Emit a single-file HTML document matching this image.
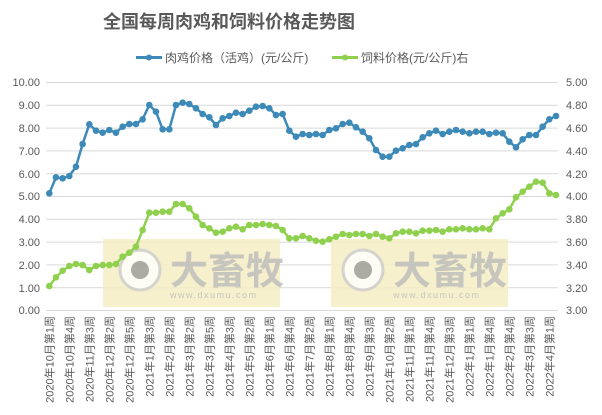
<!DOCTYPE html>
<html><head><meta charset="utf-8"><style>
body{margin:0;background:#fff}
svg{display:block;font-family:"Liberation Sans","Noto Sans CJK SC",sans-serif}
</style></head><body>
<svg id="s" width="602" height="415" viewBox="0 0 602 415">
<rect width="602" height="415" fill="#fff"/>
<g stroke="#d9d9d9" stroke-width="1">
<line x1="46" x2="558" y1="82.5" y2="82.5"/><line x1="46" x2="558" y1="105.3" y2="105.3"/><line x1="46" x2="558" y1="128.1" y2="128.1"/><line x1="46" x2="558" y1="150.9" y2="150.9"/><line x1="46" x2="558" y1="173.7" y2="173.7"/><line x1="46" x2="558" y1="196.5" y2="196.5"/><line x1="46" x2="558" y1="219.3" y2="219.3"/><line x1="46" x2="558" y1="242.1" y2="242.1"/><line x1="46" x2="558" y1="264.9" y2="264.9"/><line x1="46" x2="558" y1="287.7" y2="287.7"/><line x1="46" x2="558" y1="310.5" y2="310.5"/>
</g>
<rect x="103" y="239" width="177" height="68" fill="#f4edc4" opacity="0.85"/>
<rect x="331" y="239" width="177" height="68" fill="#f4edc4" opacity="0.85"/>
<g opacity="0.8">
<circle cx="140" cy="270" r="20" fill="#fff" stroke="#ccc" stroke-width="3"/><circle cx="140" cy="270" r="9" fill="#999"/>
<text x="170" y="284" font-size="38" font-weight="bold" fill="#bbb">大畜牧</text>
<text x="170" y="298" font-size="9" fill="#bbb" letter-spacing="1.5">www.dxumu.com</text>
<circle cx="363" cy="270" r="20" fill="#fff" stroke="#ccc" stroke-width="3"/><circle cx="363" cy="270" r="9" fill="#999"/>
<text x="393" y="284" font-size="38" font-weight="bold" fill="#bbb">大畜牧</text>
<text x="393" y="298" font-size="9" fill="#bbb" letter-spacing="1.5">www.dxumu.com</text>
</g>
<text x="103" y="28" font-size="18" font-weight="bold" fill="#595959">全国每周肉鸡和饲料价格走势图</text>
<line x1="136" x2="162" y1="57.5" y2="57.5" stroke="#3d8ab8" stroke-width="3"/><circle cx="149" cy="57.5" r="3" fill="#3d8ab8"/>
<text x="165" y="62" font-size="12" fill="#595959">肉鸡价格（活鸡）(元/公斤)</text>
<line x1="332" x2="358" y1="57.5" y2="57.5" stroke="#8fd14f" stroke-width="3"/><circle cx="345" cy="57.5" r="3" fill="#8fd14f"/>
<text x="361" y="62" font-size="12" fill="#595959">饲料价格(元/公斤)右</text>
<g font-size="11" fill="#595959" text-anchor="end">
<text x="40" y="86">10.00</text><text x="40" y="109">9.00</text><text x="40" y="132">8.00</text><text x="40" y="155">7.00</text><text x="40" y="178">6.00</text><text x="40" y="200">5.00</text><text x="40" y="223">4.00</text><text x="40" y="246">3.00</text><text x="40" y="269">2.00</text><text x="40" y="292">1.00</text><text x="40" y="314">0.00</text>
</g>
<g font-size="11" fill="#595959">
<text x="566" y="86">5.00</text><text x="566" y="109">4.80</text><text x="566" y="132">4.60</text><text x="566" y="155">4.40</text><text x="566" y="178">4.20</text><text x="566" y="200">4.00</text><text x="566" y="223">3.80</text><text x="566" y="246">3.60</text><text x="566" y="269">3.40</text><text x="566" y="292">3.20</text><text x="566" y="314">3.00</text>
</g>
<g id="xl" font-size="11" fill="#595959" text-anchor="end"></g>
<polyline id="pb" fill="none" stroke="#3d8ab8" stroke-width="2.5"/>
<polyline id="pg" fill="none" stroke="#8fd14f" stroke-width="2.5"/>
<g id="mk"></g>
</svg>
<script>
var labs=["2020年10月第1周","2020年10月第4周","2020年11月第3周","2020年12月第2周","2020年12月第5周","2021年1月第3周","2021年2月第2周","2021年3月第2周","2021年3月第5周","2021年4月第3周","2021年5月第2周","2021年6月第1周","2021年6月第4周","2021年7月第2周","2021年8月第1周","2021年8月第4周","2021年9月第3周","2021年10月第2周","2021年11月第1周","2021年11月第4周","2021年12月第3周","2022年1月第1周","2022年1月第4周","2022年2月第4周","2022年3月第3周","2022年4月第1周"];
var ns="http://www.w3.org/2000/svg",xl=document.getElementById('xl');
labs.forEach(function(t,i){var e=document.createElementNS(ns,'text');var x=49.3+20*i+4;e.setAttribute('transform','translate('+x+',316) rotate(-90)');e.textContent=t;xl.appendChild(e);});
var B=[193.3,177.3,178.3,176,166.7,144,124.3,130.7,132.7,130,132.7,126.7,124,124,119.3,105,111.7,129.3,129.3,105,102.7,104,108.3,114,117.3,125,118.3,116,112.7,114,110.7,106.7,106,108.3,115,114,130.7,136.7,134,135,134,135,130,128.3,124,122.7,127.3,131.7,138.3,150,156.7,156.7,150.7,148.3,145,144,137.3,133.3,130.7,134,131.7,130,131.7,133.3,131.7,131.7,134,132.7,133.3,141.7,147.3,139.3,135,135,126.7,119.3,116];
var Gz=[455,448,440,432,435,432,432,438,432,440,445,430,425,425,430,422,422,420,425,418,418,415,418,418,415,418,385,370,358,322,305,290,275,278,310,315];
var G=[286,277.3,270.7,266,264,265,270,266,265,265,264,256.7,252.7,246.7,230,212.7,212.7,211.7,211.7,204,204,208.3,216.7,225,228.3,232.7,231.7,228.3,226.7,229.3,225,225,224,225,226,230,238.3,238.3,236,238.3,240.7];
Gz.forEach(function(z){G.push(90+z/3);});
var mk=document.getElementById('mk');
function draw(a,id,c){var p=[];a.forEach(function(y,i){var x=49.3+i*6.667;p.push(x.toFixed(1)+','+y);var e=document.createElementNS(ns,'circle');e.setAttribute('cx',x);e.setAttribute('cy',y);e.setAttribute('r',3.3);e.setAttribute('fill',c);mk.appendChild(e);});document.getElementById(id).setAttribute('points',p.join(' '));}
draw(B,'pb','#3d8ab8');draw(G,'pg','#8fd14f');
</script>
</body></html>
